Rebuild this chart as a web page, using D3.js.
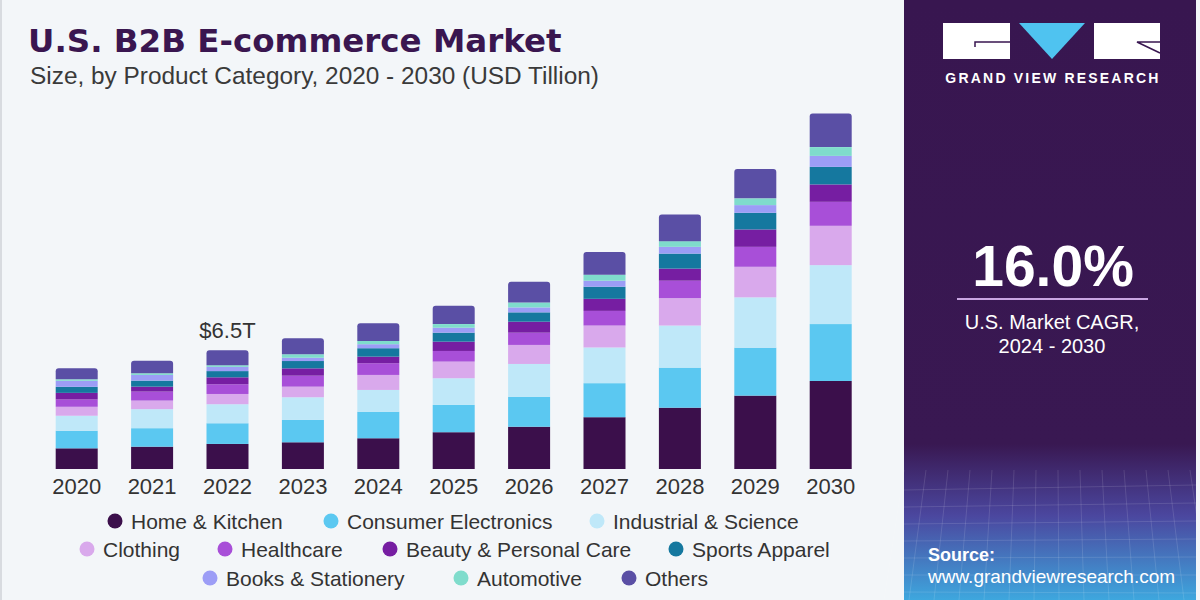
<!DOCTYPE html>
<html>
<head>
<meta charset="utf-8">
<script src="https://cdn.jsdelivr.net/npm/d3@7"></script>
<style>
html,body{margin:0;padding:0;background:#f3f6f9;}
svg{display:block;}
</style>
</head>
<body>
<svg id="chart" width="1200" height="600"></svg>
<script>
// ---------- DATA ----------
const years = ["2020","2021","2022","2023","2024","2025","2026","2027","2028","2029","2030"];
const categories = ["Home & Kitchen","Consumer Electronics","Industrial & Science","Clothing","Healthcare","Beauty & Personal Care","Sports Apparel","Books & Stationery","Automotive","Others"];
const homeKitchen     = [1.13,1.22,1.37,1.46,1.68,2.01,2.31,2.83,3.35,4.01,4.81];
const consumerElec    = [0.96,1.01,1.13,1.22,1.45,1.49,1.64,1.86,2.19,2.62,3.11];
const industrialSci   = [0.82,1.04,1.04,1.24,1.19,1.46,1.79,1.95,2.30,2.75,3.22];
const clothing        = [0.49,0.47,0.56,0.58,0.82,0.91,1.04,1.20,1.50,1.67,2.15];
const healthcare      = [0.40,0.49,0.53,0.60,0.64,0.58,0.67,0.80,0.95,1.09,1.31];
const beautyCare      = [0.36,0.27,0.38,0.40,0.36,0.51,0.60,0.66,0.66,0.95,0.95];
const sportsApparel   = [0.33,0.33,0.34,0.40,0.46,0.49,0.51,0.66,0.82,0.91,0.96];
const booksStationery = [0.33,0.31,0.23,0.18,0.22,0.27,0.27,0.33,0.37,0.42,0.60];
const automotive      = [0.08,0.09,0.09,0.19,0.18,0.20,0.27,0.33,0.31,0.37,0.48];
const others          = [0.60,0.69,0.82,0.87,0.97,1.00,1.13,1.24,1.46,1.60,1.84];
const seriesValues = [homeKitchen,consumerElec,industrialSci,clothing,healthcare,beautyCare,sportsApparel,booksStationery,automotive,others];
const colors = ["#3b0f4b","#5bc8f1","#bfe8f9","#d9a9ec","#a84fd8","#761ea2","#15789f","#9c9df6","#7fdccc","#5a4fa5"];
const annotationYear = "2022";
const annotationText = "$6.5T";
const cagrValue = "16.0%";
const cagrLabel = ["U.S. Market CAGR,","2024 - 2030"];
const titleText = "U.S. B2B E-commerce Market";
const subtitleText = "Size, by Product Category, 2020 - 2030 (USD Tillion)";
const legendRows = [[0,1,2],[3,4,5,6],[7,8,9]];

// ---------- BUILD ----------
const svg = d3.select("#chart");
const W = 1200, H = 600;
const FONT = "Liberation Sans, Arial, sans-serif";

// backgrounds
svg.append("rect").attr("width",W).attr("height",H).attr("fill","#f3f6f9");
svg.append("rect").attr("x",0).attr("y",0).attr("width",2).attr("height",H).attr("fill","#d8dbe0");

const defs = svg.append("defs");
const grad = defs.append("linearGradient").attr("id","panelGrad").attr("x1",0).attr("y1",0).attr("x2",0).attr("y2",1);
grad.append("stop").attr("offset","0").attr("stop-color","#381650");
grad.append("stop").attr("offset","0.74").attr("stop-color","#391852");
grad.append("stop").attr("offset","0.86").attr("stop-color","#4b479f");
grad.append("stop").attr("offset","1").attr("stop-color","#3ea7de");
svg.append("rect").attr("x",904).attr("y",0).attr("width",292).attr("height",H).attr("fill","url(#panelGrad)");

// faint grid in source area
const gridG = svg.append("g").attr("stroke","#ffffff").attr("stroke-opacity",0.12).attr("stroke-width",1);
for(let i=0;i<14;i++){
  gridG.append("line").attr("x1",904+i*22).attr("y1",470).attr("x2",904+i*22 - 20 + i*3).attr("y2",600);
}
for(let j=0;j<7;j++){
  gridG.append("line").attr("x1",904).attr("y1",490+j*17).attr("x2",1196).attr("y2",485+j*18);
}

// title
svg.append("text").attr("x",28).attr("y",52).text(titleText)
  .attr("font-family","DejaVu Sans, Liberation Sans, sans-serif").attr("font-weight","bold")
  .attr("font-size",32.5).attr("fill","#3a1650");
svg.append("text").attr("x",30).attr("y",84).text(subtitleText)
  .attr("font-family",FONT)
  .attr("font-size",24.4).attr("fill","#3a3a3a");

// scales
const x = d3.scaleBand().domain(years).range([39,868.4]).paddingInner(0.443).paddingOuter(0.2215);
const y = d3.scaleLinear().domain([0,20]).range([469,103]);

// stack
const tableRows = years.map((yr,i)=>{
  const o = {year:yr};
  categories.forEach((c,k)=>{ o[c] = seriesValues[k][i]; });
  return o;
});
const stack = d3.stack().keys(categories)(tableRows);

const barsG = svg.append("g");
stack.forEach((layer,k)=>{
  const g = barsG.append("g").attr("fill",colors[k]);
  const isTop = k === stack.length-1;
  layer.forEach(d=>{
    const x0 = x(d.data.year), w = x.bandwidth();
    const yTop = y(d[1]), yBot = y(d[0]);
    if(!isTop){
      g.append("rect").attr("x",x0).attr("y",yTop).attr("width",w).attr("height",yBot-yTop);
    } else {
      const r = 3;
      const p = d3.path();
      p.moveTo(x0,yBot);
      p.lineTo(x0,yTop+r);
      p.quadraticCurveTo(x0,yTop,x0+r,yTop);
      p.lineTo(x0+w-r,yTop);
      p.quadraticCurveTo(x0+w,yTop,x0+w,yTop+r);
      p.lineTo(x0+w,yBot);
      p.closePath();
      g.append("path").attr("d",p.toString());
    }
  });
});

// x axis labels
const xAxis = d3.axisBottom(x).tickSize(0).tickPadding(9);
const axG = svg.append("g").attr("transform",`translate(0,${y(0)})`).call(xAxis);
axG.select(".domain").remove();
axG.selectAll("text").attr("font-family",FONT)
  .attr("font-size",22).attr("fill","#333333");

// annotation
const annIdx = years.indexOf(annotationYear);
const annTotal = d3.sum(seriesValues, s=>s[annIdx]);
svg.append("text").attr("x",x(annotationYear)+x.bandwidth()/2).attr("y",y(annTotal)-12)
  .attr("text-anchor","middle").text(annotationText)
  .attr("font-family",FONT).attr("font-size",22).attr("fill","#333333");

// legend
const legendPos = [
  [[131,521],[347,521],[613,521]],
  [[103,549],[241,549],[406,549],[692,549]],
  [[226,578],[477,578],[645,578]]
];
const legG = svg.append("g");
legendRows.forEach((row,ri)=>{
  row.forEach((k,ci)=>{
    const [tx,cy] = legendPos[ri][ci];
    legG.append("circle").attr("cx",tx-16).attr("cy",cy).attr("r",7.5).attr("fill",colors[k]);
    legG.append("text").attr("x",tx).attr("y",cy+7.5).text(categories[k])
      .attr("font-family",FONT).attr("font-size",21).attr("fill","#333333");
  });
});

// logo
const logo = svg.append("g");
logo.append("rect").attr("x",943).attr("y",23).attr("width",67).attr("height",36).attr("fill","#ffffff");
logo.append("path").attr("d","M975,47 L975,42 L1010,42").attr("stroke","#381650").attr("stroke-width",1.5).attr("fill","none");
logo.append("path").attr("d","M1019,23 L1085,23 L1052,59 Z").attr("fill","#4fc3f0");
logo.append("rect").attr("x",1094).attr("y",23).attr("width",66).attr("height",36).attr("fill","#ffffff");
logo.append("path").attr("d","M1160,42 L1137,42 L1160,53").attr("stroke","#381650").attr("stroke-width",1.5).attr("fill","none");
logo.append("text").attr("x",1053).attr("y",83).attr("text-anchor","middle").text("GRAND VIEW RESEARCH")
  .attr("font-family",FONT).attr("font-weight","bold")
  .attr("font-size",14).attr("letter-spacing",2.2).attr("fill","#ffffff");

// CAGR block
svg.append("text").attr("x",1053).attr("y",286).attr("text-anchor","middle").text(cagrValue)
  .attr("font-family",FONT).attr("font-weight","bold")
  .attr("font-size",57).attr("fill","#ffffff");
svg.append("line").attr("x1",957).attr("x2",1148).attr("y1",299).attr("y2",299)
  .attr("stroke","#c9a6e2").attr("stroke-width",2);
cagrLabel.forEach((t,i)=>{
  svg.append("text").attr("x",1052).attr("y",329+i*24).attr("text-anchor","middle").text(t)
    .attr("font-family",FONT).attr("font-size",20).attr("fill","#ffffff");
});

// source
svg.append("text").attr("x",928).attr("y",561).text("Source:")
  .attr("font-family",FONT).attr("font-weight","bold")
  .attr("font-size",18).attr("fill","#ffffff");
svg.append("text").attr("x",928).attr("y",583).text("www.grandviewresearch.com")
  .attr("font-family",FONT)
  .attr("font-size",19).attr("fill","#ffffff");
</script>
</body>
</html>
